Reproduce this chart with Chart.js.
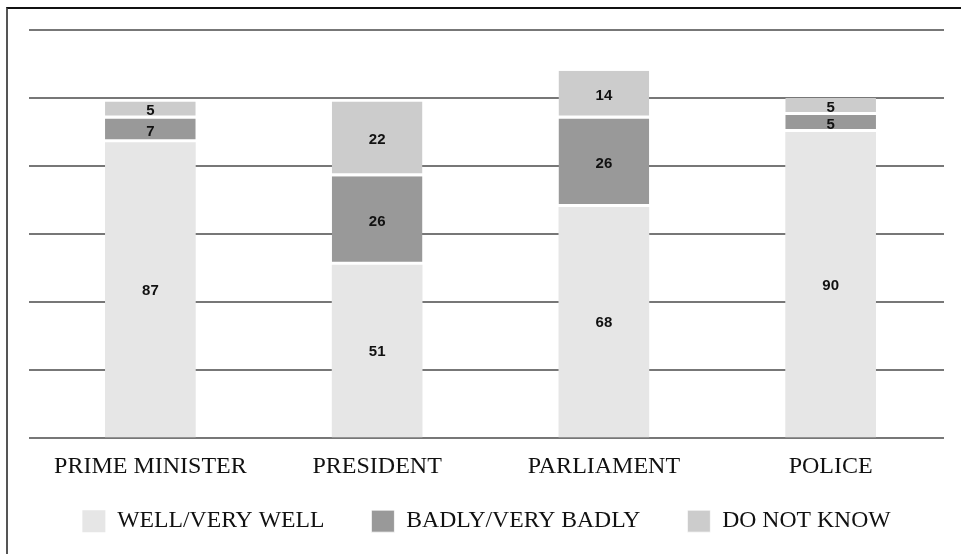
<!DOCTYPE html>
<html>
<head>
<meta charset="utf-8">
<script src="https://cdn.jsdelivr.net/npm/chart.js@4.4.1/dist/chart.umd.min.js"></script>
<style>
  html, body { margin: 0; padding: 0; background: #fff; }
  #wrap { position: relative; width: 961px; height: 554px; }
  #frame {
    position: absolute; left: 6px; top: 7px; right: 0; bottom: 0;
    border-top: 2px solid #111; border-left: 2px solid #555;
    pointer-events: none;
  }
</style>
</head>
<body>
<div id="wrap">
  <canvas id="chart" width="961" height="554"></canvas>
  <div id="frame"></div>
</div>
<script>
  // categories and series (percent)
  const categories = ['PRIME MINISTER', 'PRESIDENT', 'PARLIAMENT', 'POLICE'];
  const wellValues = [87, 51, 68, 90];
  const badlyValues = [7, 26, 26, 5];
  const dontKnowValues = [5, 22, 14, 5];
  const seriesNames = ['WELL/VERY WELL', 'BADLY/VERY BADLY', 'DO NOT KNOW'];
  const yTicks = [0, 20, 40, 60, 80, 100, 120];

  const serif = "'Liberation Serif', 'Times New Roman', serif";

  // draws the number in the middle of every stacked segment
  const segmentLabels = {
    id: 'segmentLabels',
    afterLayout(chart) {
      // keep the category labels from being clipped by the short x axis box
      chart.scales.x.bottom = chart.height;
    },
    afterDatasetsDraw(chart) {
      const ctx = chart.ctx;
      ctx.save();
      ctx.font = "bold 15px 'Liberation Sans', Arial, sans-serif";
      ctx.fillStyle = '#111';
      ctx.textAlign = 'center';
      ctx.textBaseline = 'middle';
      chart.data.datasets.forEach((ds, i) => {
        const meta = chart.getDatasetMeta(i);
        meta.data.forEach((bar, j) => {
          const p = bar.getCenterPoint();
          ctx.fillText(String(ds.data[j]), p.x, p.y + 1);
        });
      });
      ctx.restore();
    }
  };

  const ctx = document.getElementById('chart');
  new Chart(ctx, {
    type: 'bar',
    data: {
      labels: categories,
      datasets: [
        {
          label: seriesNames[0],
          data: wellValues,
          backgroundColor: '#e6e6e6',
          borderWidth: 0
        },
        {
          label: seriesNames[1],
          data: badlyValues,
          backgroundColor: '#999999',
          borderColor: '#ffffff',
          borderSkipped: false,
          borderWidth: { top: 0, left: 0, right: 0, bottom: 3 }
        },
        {
          label: seriesNames[2],
          data: dontKnowValues,
          backgroundColor: '#cccccc',
          borderColor: '#ffffff',
          borderSkipped: false,
          borderWidth: { top: 0, left: 0, right: 0, bottom: 3 }
        }
      ]
    },
    options: {
      responsive: false,
      animation: false,
      datasets: {
        bar: { categoryPercentage: 1, barPercentage: 0.4 }
      },
      layout: {
        padding: { left: 29, right: 17, top: 30, bottom: 11 }
      },
      scales: {
        x: {
          stacked: true,
          grid: { display: false, drawTicks: false },
          border: { display: false },
          ticks: {
            color: '#111',
            padding: 14,
            font: { family: serif, size: 24 }
          },
          afterFit(scale) { scale.height = 24; }
        },
        y: {
          stacked: true,
          min: 0,
          max: 120,
          afterBuildTicks(scale) { scale.ticks = yTicks.map(v => ({ value: v })); },
          grid: { color: '#777', lineWidth: 2, drawTicks: true, tickLength: 8, tickColor: '#777' },
          border: { display: false },
          ticks: { display: false }
        }
      },
      plugins: {
        legend: {
          position: 'bottom',
          labels: {
            color: '#111',
            boxWidth: 23,
            boxHeight: 22,
            padding: 47,
            font: { family: serif, size: 23.7 }
          }
        },
        tooltip: { enabled: false }
      }
    },
    plugins: [segmentLabels]
  });
</script>
</body>
</html>
